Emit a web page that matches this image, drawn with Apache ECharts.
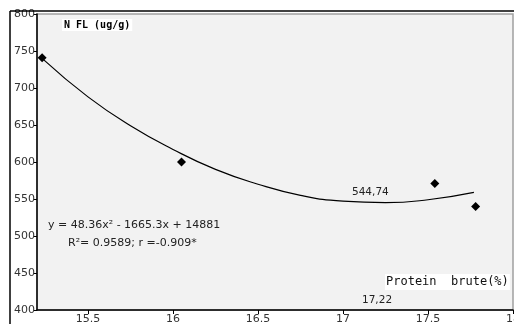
<!DOCTYPE html>
<html>
<head>
<meta charset="utf-8">
<script src="https://cdn.jsdelivr.net/npm/echarts@6/dist/echarts.min.js"></script>
<style>html,body{margin:0;padding:0;background:#fff;}#c{width:514px;height:324px;}</style>
</head>
<body>
<div id="c"></div>
<script>
// Observed points: protein brute (%) vs N FL (ug/g)
const observedPoints = [[15.23, 741], [16.05, 600], [17.54, 571], [17.78, 540]];
// Fitted trend curve
const trendPoints = [[15.24, 738], [15.5, 688], [15.75, 649], [16, 617], [16.25, 590], [16.5, 570], [16.75, 555], [17, 547], [17.25, 545], [17.5, 549], [17.77, 559]];
const xTickValues = [15.5, 16, 16.5, 17, 17.5, 18];
const yAxisTitle = 'N FL (ug/g)';
const xAxisTitle = 'Protein  brute(%)';
const equationText = 'y = 48.36x\u00b2 - 1665.3x + 14881';
const statsText = 'R\u00b2= 0.9589; r =-0.909*';
const minLabel = '544,74';
const minXLabel = '17,22';

const chart = echarts.init(document.getElementById('c'), null, {renderer: 'canvas'});
const font = 'DejaVu Sans';
chart.setOption({
  animation: false,
  backgroundColor: '#fff',
  grid: {left: 37, right: 1, top: 14, bottom: 14, outerBoundsMode: 'none', containLabel: false, show: true, backgroundColor: '#f2f2f2', borderColor: '#a0a0a0', borderWidth: 1.5},
  xAxis: {
    type: 'value', min: 15.2, max: 18,
    axisLine: {show: true, lineStyle: {color: '#000', width: 1.5}},
    axisTick: {show: true, length: 4, customValues: xTickValues, lineStyle: {color: '#000'}},
    axisLabel: {customValues: xTickValues, color: '#333', fontFamily: font, fontSize: 11, margin: 4, formatter: v => String(v)},
    splitLine: {show: false}
  },
  yAxis: {
    type: 'value', min: 400, max: 800, interval: 50,
    axisLine: {show: true, lineStyle: {color: '#000', width: 1.5}},
    axisTick: {show: true, length: 3, lineStyle: {color: '#000'}},
    axisLabel: {color: '#333', fontFamily: font, fontSize: 11, margin: 2},
    splitLine: {show: false}
  },
  series: [
    {type: 'line', data: trendPoints, smooth: true, showSymbol: false, lineStyle: {color: '#000', width: 1.2}, z: 3},
    {type: 'scatter', data: observedPoints, symbol: 'diamond', symbolSize: 9, itemStyle: {color: '#000', opacity: 1}, z: 4}
  ],
  graphic: [
    {type: 'line', shape: {x1: 10, y1: 11, x2: 514, y2: 11}, style: {stroke: '#000', lineWidth: 1.5}, z: 10},
    {type: 'line', shape: {x1: 10, y1: 11, x2: 10, y2: 324}, style: {stroke: '#000', lineWidth: 1.5}, z: 10},
    {type: 'text', left: 62, top: 19, z: 10, style: {text: yAxisTitle, font: 'bold 10px "DejaVu Sans Mono"', fill: '#000', backgroundColor: '#fff', padding: [1, 2]}},
    {type: 'text', left: 48, top: 220, z: 10, style: {text: equationText, font: '11px "DejaVu Sans"', fill: '#222'}},
    {type: 'text', left: 68, top: 238, z: 10, style: {text: statsText, font: '11px "DejaVu Sans"', fill: '#222'}},
    {type: 'text', left: 352, top: 187, z: 10, style: {text: minLabel, font: '10.5px "DejaVu Sans"', fill: '#222'}},
    {type: 'text', left: 362, top: 295, z: 10, style: {text: minXLabel, font: '10.5px "DejaVu Sans"', fill: '#222'}},
    {type: 'text', left: 385, top: 274, z: 10, style: {text: xAxisTitle, font: '12px "DejaVu Sans Mono"', fill: '#111', backgroundColor: '#fff', padding: [2, 1]}}
  ]
});
</script>
</body>
</html>
